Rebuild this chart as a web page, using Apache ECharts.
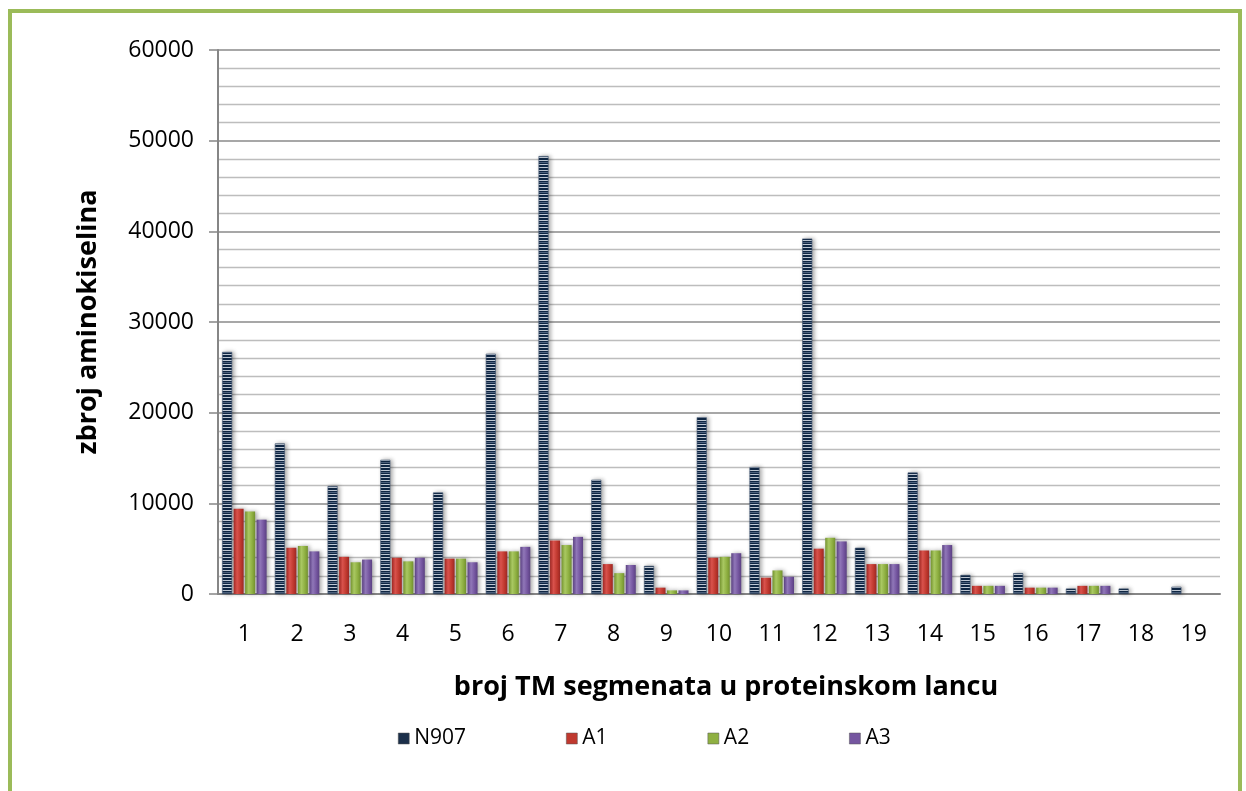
<!DOCTYPE html>
<html>
<head>
<meta charset="utf-8">
<title>zbroj aminokiselina</title>
<script src="https://cdn.jsdelivr.net/npm/echarts@6/dist/echarts.min.js"></script>
<style>
  html, body { margin: 0; padding: 0; background: #ffffff; }
  #chart { width: 1246px; height: 791px; }
</style>
</head>
<body>
<div id="chart"></div>
<script>
// Number of TM segments per protein chain
const categories = ['1','2','3','4','5','6','7','8','9','10','11','12','13','14','15','16','17','18','19'];

const seriesNames = ['N907', 'A1', 'A2', 'A3'];

const n907 = [26700, 16600, 11900, 14800, 11200, 26500, 48300, 12600, 3100, 19500, 14000, 39200, 5100, 13400, 2100, 2300, 600, 600, 800];
const a1   = [9400, 5100, 4100, 4000, 3900, 4700, 5900, 3300, 700, 4000, 1800, 5000, 3300, 4800, 900, 700, 900, 0, 0];
const a2   = [9100, 5300, 3500, 3600, 3900, 4700, 5400, 2300, 400, 4100, 2600, 6200, 3300, 4800, 900, 700, 900, 0, 0];
const a3   = [8200, 4700, 3800, 4000, 3500, 5200, 6300, 3200, 400, 4500, 1900, 5800, 3300, 5400, 900, 700, 900, 0, 0];

const yTicks = [0, 10000, 20000, 30000, 40000, 50000, 60000];

// Striped fill for the N907 bars: dark navy with thin light rows
function stripePattern() {
  const c = document.createElement('canvas');
  c.width = 12; c.height = 10;
  const g = c.getContext('2d');
  g.fillStyle = '#102846';
  g.fillRect(0, 0, 12, 10);
  g.fillStyle = '#C3CCD8';
  [0, 4, 7].forEach(function (r) { g.fillRect(0, r, 12, 1); });
  g.fillStyle = '#4E6380';
  [2].forEach(function (r) { g.fillRect(0, r, 12, 1); });
  return c;
}

function bevel(dark, mid, light) {
  return {
    type: 'linear', x: 0, y: 0, x2: 1, y2: 0,
    colorStops: [
      { offset: 0, color: dark },
      { offset: 0.35, color: light },
      { offset: 0.7, color: mid },
      { offset: 1, color: dark }
    ]
  };
}

const font = '"Open Sans", Lato, sans-serif';
const shadow = { shadowColor: 'rgba(0,0,0,0.35)', shadowBlur: 4, shadowOffsetX: 2, shadowOffsetY: 0 };

const seriesStyles = [
  Object.assign({ color: { image: stripePattern(), repeat: 'repeat' }, borderColor: '#3E536E', borderWidth: 0.6 }, shadow),
  Object.assign({ color: bevel('#9E2723', '#C0392F', '#D9524C') }, shadow),
  Object.assign({ color: bevel('#73922E', '#8FB042', '#A9C862') }, shadow),
  Object.assign({ color: bevel('#5B4182', '#7556A0', '#9077B8') }, shadow)
];
const legendColors = ['#1B2F4A', '#C0392F', '#8FB042', '#7556A0'];
const seriesData = [n907, a1, a2, a3];

const chart = echarts.init(document.getElementById('chart'), null, { renderer: 'canvas' });

chart.setOption({
  backgroundColor: '#ffffff',
  animation: false,
  textStyle: { fontFamily: font },
  graphic: [{
    type: 'rect',
    shape: { x: 10, y: 11, width: 1230, height: 800 },
    style: { fill: 'none', stroke: '#9BBB59', lineWidth: 4 },
    silent: true,
    z: 10
  }],
  grid: { left: 218, right: 26, top: 50, bottom: 197, containLabel: false },
  legend: {
    top: 723,
    left: 393,
    itemWidth: 11,
    itemHeight: 11,
    itemGap: 100,
    icon: 'rect',
    textStyle: { fontFamily: font, fontSize: 21, color: '#000000', padding: [0, 0, 0, 0] },
    data: seriesNames.map(function (n, i) {
      return { name: n, itemStyle: { color: legendColors[i], borderColor: '#555', borderWidth: 0.5 } };
    })
  },
  xAxis: {
    type: 'category',
    data: categories,
    name: 'broj TM segmenata u proteinskom lancu',
    nameLocation: 'middle',
    nameGap: 80,
    nameTextStyle: { fontFamily: font, fontSize: 27, fontWeight: 'bold', color: '#000000', padding: [0, 0, 0, 14] },
    axisLine: { lineStyle: { color: '#868686', width: 2 } },
    axisTick: { show: false },
    axisLabel: { fontFamily: font, fontSize: 23, color: '#000000', margin: 29 }
  },
  yAxis: {
    type: 'value',
    min: 0,
    max: 60000,
    interval: 10000,
    name: 'zbroj aminokiselina',
    nameLocation: 'middle',
    nameGap: 116,
    nameTextStyle: { fontFamily: font, fontSize: 27, fontWeight: 'bold', color: '#000000' },
    axisLine: { show: true, lineStyle: { color: '#868686', width: 2 } },
    axisTick: { show: true, length: 9, lineStyle: { color: '#868686', width: 1.5 } },
    axisLabel: {
      fontFamily: font, fontSize: 23, color: '#000000', margin: 24,
      formatter: function (v) { return yTicks.indexOf(v) >= 0 ? String(v) : ''; }
    },
    splitLine: { show: true, lineStyle: { color: '#8A8A8A', width: 1.6 } },
    minorTick: { show: false, splitNumber: 5 },
    minorSplitLine: { show: true, lineStyle: { color: '#BDBDBD', width: 1.4 } }
  },
  series: seriesNames.map(function (n, i) {
    return {
      name: n,
      type: 'bar',
      data: seriesData[i],
      barWidth: 10,
      barGap: '15%',
      itemStyle: seriesStyles[i]
    };
  })
});
</script>
</body>
</html>
